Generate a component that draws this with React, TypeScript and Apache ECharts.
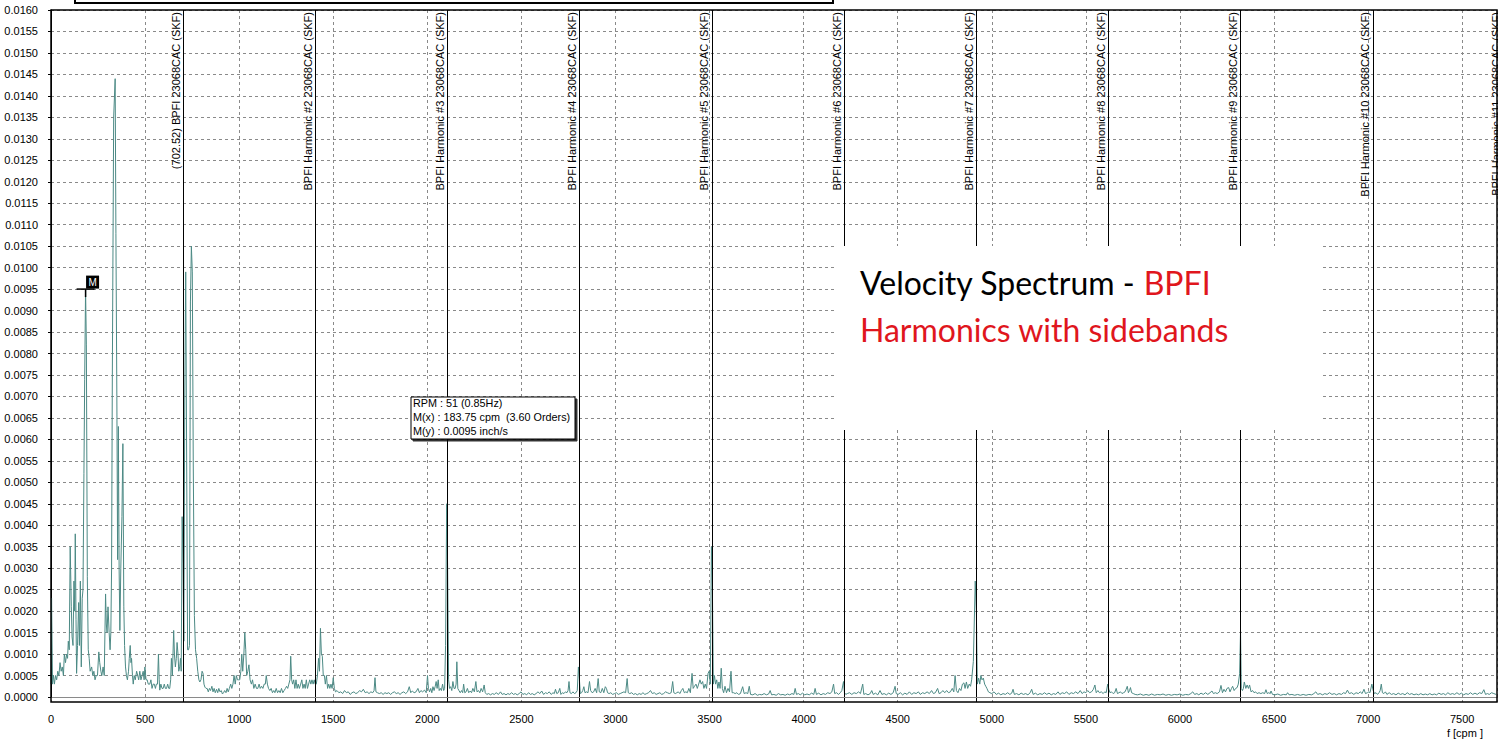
import React, { useEffect, useRef } from "react";
import * as echarts from "echarts";

// ---------- axis settings ----------
const X_MAX = 7685;
const X_STEP = 500;
const Y_MAX = 0.016;
const Y_STEP = 0.0005;

// ---------- annotations ----------
const harmonicFreqs = [702.52, 1405.04, 2107.56, 2810.08, 3512.6, 4215.12, 4917.64, 5620.16, 6322.68, 7025.2];
const harmonicLabels = [
  "(702.52) BPFI 23068CAC (SKF)",
  "BPFI Harmonic #2 23068CAC (SKF)",
  "BPFI Harmonic #3 23068CAC (SKF)",
  "BPFI Harmonic #4 23068CAC (SKF)",
  "BPFI Harmonic #5 23068CAC (SKF)",
  "BPFI Harmonic #6 23068CAC (SKF)",
  "BPFI Harmonic #7 23068CAC (SKF)",
  "BPFI Harmonic #8 23068CAC (SKF)",
  "BPFI Harmonic #9 23068CAC (SKF)",
  "BPFI Harmonic #10 23068CAC (SKF)",
];
const overflowLabel = "BPFI Harmonic #11 23068CAC (SKF)";
const markerPoint = [183.75, 0.0095];
const readoutLines = ["RPM : 51 (0.85Hz)", "M(x) : 183.75 cpm  (3.60 Orders)", "M(y) : 0.0095 inch/s"];
const titleBlack = "Velocity Spectrum - ";
const titleRed1 = "BPFI";
const titleRed2 = "Harmonics with sidebands";
const xUnit = "f [cpm ]";

// ---------- spectrum (cpm, inch/s) ----------
const bandA = [
  [0, 0.0003], [3, 0.0023], [8, 0.0003], [13, 0.0005], [18, 0.0003], [24, 0.0005], [30, 0.0004], [36, 0.0006],
  [42, 0.0005], [48, 0.0008], [54, 0.0006], [60, 0.0007], [66, 0.0005], [71, 0.001], [77, 0.0008], [83, 0.001],
  [88, 0.0009], [92, 0.0013], [97, 0.0011], [102, 0.0035], [108, 0.0021], [112, 0.0014], [117, 0.0012], [122, 0.0027],
  [126, 0.002], [129, 0.0038], [133, 0.0018], [136, 0.00055], [141, 0.0012], [147, 0.0022], [151, 0.0012], [156, 0.0027],
  [161, 0.0007], [166, 0.0023], [170, 0.0025], [175, 0.0052], [179, 0.0074], [183.75, 0.0095], [188, 0.0082], [193, 0.0028],
  [198, 0.0011], [203, 0.0009], [208, 0.0006], [216, 0.0007], [222, 0.0005], [228, 0.0006], [234, 0.0004], [240, 0.0005],
  [247, 0.0005], [254, 0.00105], [259, 0.0008], [265, 0.0006], [270, 0.0005], [277, 0.0007], [283, 0.0005], [290, 0.0024],
  [294, 0.0017], [298, 0.0015], [303, 0.0021], [309, 0.0015], [314, 0.0011], [318, 0.0015], [322, 0.003], [326, 0.0075],
  [333, 0.0135], [341, 0.0144], [345, 0.0108], [350, 0.007], [354, 0.0032], [358, 0.0063], [362, 0.003], [366, 0.00155],
  [371, 0.003], [377, 0.0042], [382, 0.0059], [387, 0.0021], [391, 0.0012], [396, 0.0007], [401, 0.0005], [406, 0.0004],
  [412, 0.0006], [416, 0.0009], [421, 0.0012], [425, 0.0008], [428, 0.0009], [433, 0.0005], [437, 0.0003], [442, 0.0005],
  [448, 0.0004], [455, 0.0006], [461, 0.0005], [466, 0.0004], [472, 0.0006], [478, 0.0004], [484, 0.0005], [490, 0.0006],
  [495, 0.0004], [499, 0.0007], [505, 0.0004], [511, 0.0004], [517, 0.0003], [525, 0.0003], [531, 0.0004], [537, 0.0002],
  [543, 0.0003], [549, 0.0003], [555, 0.0002], [560, 0.0003], [566, 0.0003], [571, 0.001], [575, 0.0004], [578, 0.00016],
  [584, 0.0003], [590, 0.0002], [596, 0.0002], [602, 0.0003], [608, 0.0002], [614, 0.0002], [620, 0.0003], [626, 0.0002],
  [631, 0.0002], [636, 0.0004], [640, 0.0009], [645, 0.0005], [652, 0.00155], [656, 0.001], [661, 0.0007], [666, 0.0009],
  [670, 0.00127], [675, 0.001], [679, 0.0006], [684, 0.0007], [688, 0.0009], [692, 0.0006], [697, 0.0042], [702, 0.0031],
  [706, 0.0013], [711, 0.007], [716, 0.0099], [721, 0.0055], [726, 0.0011], [731, 0.0011], [736, 0.0012], [741, 0.0092],
  [746, 0.0105], [751, 0.0099], [756, 0.0055], [762, 0.0019], [768, 0.0011], [774, 0.0009], [780, 0.0006], [786, 0.0004],
  [791, 0.00035], [797, 0.0004], [803, 0.0006], [808, 0.00055], [813, 0.0003], [818, 0.00023], [824, 0.0002],
];
const bandB = [
  [830, 0.0002], [836, 0.00012], [842, 0.0002], [848, 0.00015], [855, 0.00025], [861, 0.00012], [867, 0.0002], [873, 0.0001],
  [880, 0.00018], [886, 0.0001], [892, 0.0002], [898, 0.00012], [905, 0.00015], [911, 0.00007], [917, 0.0001], [923, 0.00015],
  [930, 0.0001], [936, 0.0002], [942, 0.00012], [948, 0.0002], [955, 0.0003], [961, 0.0002], [967, 0.0003], [973, 0.0005],
  [979, 0.0003], [985, 0.0005], [991, 0.0004], [997, 0.0004], [1003, 0.0004], [1009, 0.0006], [1014, 0.001], [1019, 0.0006],
  [1025, 0.001], [1030, 0.0015], [1035, 0.0011], [1040, 0.0005], [1046, 0.0006], [1052, 0.00075], [1058, 0.0004], [1065, 0.0003],
  [1071, 0.0004], [1078, 0.0002], [1085, 0.0003], [1092, 0.0002], [1099, 0.0002], [1106, 0.0003], [1112, 0.0002], [1119, 0.00025],
  [1126, 0.0002], [1133, 0.0003], [1139, 0.0003], [1144, 0.0005], [1150, 0.0003], [1156, 0.0002], [1163, 0.00015], [1170, 0.0002],
  [1177, 0.0001], [1184, 0.00015], [1190, 0.0001], [1197, 0.0002], [1204, 0.0001], [1211, 0.00015], [1218, 0.0001], [1225, 0.0002],
  [1232, 0.0001], [1239, 0.00015], [1246, 0.0002], [1252, 0.00025], [1258, 0.0002], [1264, 0.0003], [1270, 0.0004], [1274, 0.00095],
  [1279, 0.0004], [1284, 0.0003], [1290, 0.0004], [1296, 0.0002], [1302, 0.0004], [1308, 0.0002], [1314, 0.0003], [1320, 0.0002],
  [1327, 0.0003], [1333, 0.0004], [1339, 0.0002], [1345, 0.0003], [1351, 0.0002], [1357, 0.0004], [1363, 0.0002], [1369, 0.0003],
  [1375, 0.0004], [1381, 0.0003], [1387, 0.0004], [1393, 0.0003], [1399, 0.0004], [1404, 0.0003], [1410, 0.0003], [1416, 0.0005],
  [1422, 0.0009], [1427, 0.0006], [1432, 0.0016], [1437, 0.001], [1442, 0.00095], [1447, 0.0005], [1453, 0.0005], [1458, 0.0003],
  [1464, 0.0005], [1470, 0.0002], [1476, 0.0003], [1482, 0.0002], [1488, 0.0003], [1494, 0.0002], [1500, 0.00045], [1506, 0.0002],
  [1512, 0.00012],
];
const bandC = [
  [1520, 0.00015], [1530, 0.0001], [1540, 0.00012], [1550, 0.00008], [1560, 0.00015], [1570, 0.0001], [1580, 0.00012], [1590, 0.00006],
  [1600, 0.0001], [1610, 0.00012], [1620, 0.00008], [1630, 0.0001], [1640, 0.00015], [1650, 0.00012], [1660, 0.00018], [1670, 0.0001],
  [1680, 0.00012], [1690, 0.00008], [1700, 0.00012], [1710, 0.0001], [1717, 0.00015], [1722, 0.00045], [1727, 0.00012], [1735, 0.0001],
  [1745, 0.00008], [1755, 0.0001], [1765, 0.00006], [1775, 0.0001], [1785, 0.00008], [1795, 0.0001], [1805, 0.00006], [1815, 0.0001],
  [1825, 0.00012], [1835, 0.00008], [1845, 0.0001], [1855, 0.00006], [1865, 0.0001], [1875, 0.00012], [1885, 0.00008], [1895, 0.00012],
  [1904, 0.00024], [1912, 0.0001], [1920, 0.00014], [1930, 0.0001], [1940, 0.00012], [1950, 0.0002], [1958, 0.0001], [1966, 0.00015],
  [1975, 0.00012], [1985, 0.00016], [1994, 0.0001], [2001, 0.0005], [2006, 0.0002], [2012, 0.00012], [2018, 0.0002], [2024, 0.0001],
  [2030, 0.00024], [2036, 0.00015], [2042, 0.00025], [2047, 0.00036], [2052, 0.0002], [2058, 0.0004], [2063, 0.00015], [2069, 0.0002],
  [2075, 0.00015], [2081, 0.0003], [2087, 0.00015], [2092, 0.0002], [2097, 0.0012], [2103, 0.0045], [2108, 0.003], [2113, 0.0004],
  [2118, 0.0002], [2124, 0.00024], [2130, 0.00015], [2136, 0.00036], [2142, 0.0002], [2148, 0.0002], [2153, 0.0003], [2157, 0.00082],
  [2162, 0.0002], [2168, 0.00015], [2175, 0.0001], [2182, 0.00015], [2188, 0.0001], [2193, 0.0003], [2199, 0.0001], [2206, 0.00012],
  [2213, 0.0002], [2220, 0.0001], [2228, 0.00014], [2235, 0.0001], [2242, 0.0002], [2250, 0.00012], [2258, 0.00036], [2264, 0.00012],
  [2272, 0.00015], [2279, 0.0001], [2286, 0.0002], [2294, 0.00012], [2302, 0.00028], [2308, 0.0001],
];
const bandD = [
  [2316, 0.00006], [2326, 0.00008], [2336, 0.00005], [2346, 0.00008], [2356, 0.00006], [2366, 0.0001], [2378, 0.00006], [2389, 0.00012],
  [2398, 0.00006], [2408, 0.00008], [2418, 0.00005], [2428, 0.00008], [2438, 0.00006], [2448, 0.0001], [2458, 0.00006], [2468, 0.00008],
  [2478, 0.00005], [2488, 0.00008], [2498, 0.00012], [2508, 0.00006], [2518, 0.00008], [2528, 0.00005], [2538, 0.0001], [2548, 0.00006],
  [2558, 0.00008], [2568, 0.00005], [2578, 0.00008], [2588, 0.00012], [2598, 0.00008], [2608, 0.00014], [2618, 0.00006], [2628, 0.0001],
  [2638, 0.00008], [2648, 0.00012], [2658, 0.00006], [2668, 0.0001], [2675, 0.00008], [2681, 0.00018], [2688, 0.00008], [2696, 0.0001],
  [2704, 0.0002], [2710, 0.00006], [2718, 0.0001], [2726, 0.00008], [2734, 0.00012], [2742, 0.0001], [2748, 0.00015], [2753, 0.00036],
  [2758, 0.0001], [2766, 0.00008], [2774, 0.00012], [2782, 0.00008], [2790, 0.0001], [2797, 0.00015], [2803, 0.0007], [2808, 0.00043],
  [2813, 0.00008], [2820, 0.0001], [2826, 0.00015], [2832, 0.00024], [2838, 0.0001], [2846, 0.00012], [2854, 0.0001], [2862, 0.00036],
  [2868, 0.00015], [2876, 0.0001], [2884, 0.00012], [2892, 0.0002], [2900, 0.0001], [2908, 0.00043], [2914, 0.00012], [2922, 0.0001],
  [2930, 0.0002], [2938, 0.0001], [2946, 0.00024], [2952, 0.0002], [2958, 0.0001], [2966, 0.00008], [2975, 0.0001], [2985, 0.00006],
  [2995, 0.00008], [3005, 0.0001], [3015, 0.00006], [3025, 0.00008], [3035, 0.0001], [3045, 0.00012], [3054, 0.0001], [3062, 0.00043],
  [3068, 0.0001], [3076, 0.00008], [3086, 0.0001], [3096, 0.00006], [3106, 0.00008], [3116, 0.00005], [3126, 0.00008], [3136, 0.00006],
  [3146, 0.0001], [3156, 0.00006], [3166, 0.00008], [3176, 0.0001], [3186, 0.00015], [3196, 0.00008], [3206, 0.0001], [3216, 0.00006],
  [3226, 0.00008], [3236, 0.0001], [3246, 0.00006], [3256, 0.00008], [3266, 0.00012], [3276, 0.0001], [3286, 0.00008], [3296, 0.0001],
  [3304, 0.00036], [3310, 0.0001], [3318, 0.00008], [3326, 0.0001], [3334, 0.00012], [3342, 0.00008], [3350, 0.00015], [3358, 0.0002],
  [3366, 0.0001], [3374, 0.00012], [3382, 0.0001], [3390, 0.0002], [3398, 0.0001], [3407, 0.00055], [3413, 0.0002], [3420, 0.00025],
  [3428, 0.0003], [3435, 0.0002], [3442, 0.0003], [3449, 0.0004], [3456, 0.0003], [3463, 0.00036], [3470, 0.0002], [3477, 0.0003],
  [3484, 0.0002], [3492, 0.00055], [3498, 0.0006], [3504, 0.0003], [3510, 0.0035], [3515, 0.0026], [3520, 0.0003], [3526, 0.0005],
  [3532, 0.0003], [3538, 0.0004], [3544, 0.0002], [3550, 0.00035], [3556, 0.0002], [3562, 0.00067], [3568, 0.0002], [3575, 0.0001],
  [3582, 0.00025], [3590, 0.0001], [3598, 0.0002], [3606, 0.00012], [3614, 0.0006], [3620, 0.0001], [3628, 0.0001], [3636, 0.00008],
  [3645, 0.0001], [3654, 0.00006], [3664, 0.00008], [3676, 0.00024], [3684, 0.00008], [3694, 0.0001], [3703, 0.00008], [3711, 0.00025],
  [3718, 0.00006],
];
const bandE = [
  [3730, 0.00005], [3742, 0.00008], [3754, 0.00004], [3766, 0.00006], [3778, 0.00005], [3790, 0.00008], [3802, 0.00005], [3814, 0.00007],
  [3822, 0.00015], [3830, 0.00005], [3842, 0.00006], [3854, 0.00004], [3866, 0.00008], [3878, 0.00005], [3890, 0.00006], [3902, 0.00004],
  [3914, 0.00007], [3926, 0.00005], [3938, 0.00008], [3948, 0.00006], [3955, 0.0002], [3962, 0.00006], [3972, 0.00008], [3982, 0.00005],
  [3994, 0.00009], [4006, 0.00005], [4018, 0.00007], [4030, 0.00005], [4042, 0.00009], [4054, 0.00006], [4061, 0.0002], [4068, 0.00006],
  [4080, 0.00009], [4092, 0.00005], [4104, 0.00008], [4116, 0.00006], [4128, 0.0001], [4140, 0.00008], [4150, 0.00012], [4159, 0.0003],
  [4165, 0.00008], [4175, 0.0001], [4185, 0.00006], [4195, 0.0001], [4203, 0.00015], [4212, 0.00036], [4217, 0.0001], [4224, 0.00006],
  [4232, 0.00008], [4244, 0.0001], [4256, 0.00006], [4268, 0.0001], [4280, 0.00008], [4292, 0.00012], [4302, 0.00008], [4314, 0.0003],
  [4320, 0.00006], [4330, 0.00008], [4342, 0.00005], [4354, 0.00008], [4362, 0.00015], [4370, 0.00006], [4382, 0.00009], [4394, 0.00005],
  [4406, 0.00015], [4416, 0.00006], [4428, 0.00008], [4440, 0.00005], [4452, 0.00009], [4464, 0.00006], [4476, 0.0001], [4486, 0.00025],
  [4492, 0.00008], [4502, 0.00006], [4514, 0.0001], [4526, 0.00005], [4538, 0.00009], [4550, 0.00006], [4562, 0.00012], [4574, 0.00006],
  [4586, 0.0001], [4598, 0.00008], [4610, 0.00012], [4620, 0.00006], [4632, 0.0001], [4644, 0.00008], [4656, 0.00012], [4668, 0.00008],
  [4680, 0.00015], [4690, 0.00008], [4700, 0.0001], [4712, 0.0002], [4720, 0.00008], [4730, 0.0001], [4740, 0.00015], [4750, 0.0001],
  [4760, 0.00015], [4770, 0.0001], [4780, 0.00012], [4790, 0.0002], [4798, 0.00012], [4805, 0.0005], [4812, 0.00015], [4820, 0.0001],
  [4828, 0.0002], [4836, 0.00015], [4844, 0.0003], [4852, 0.00033], [4858, 0.0002], [4865, 0.00035], [4872, 0.0002], [4880, 0.0003],
  [4887, 0.00025], [4893, 0.0004], [4902, 0.00083], [4912, 0.0027], [4918, 0.002], [4923, 0.0003], [4930, 0.00044], [4936, 0.0003],
  [4942, 0.0005], [4948, 0.0004], [4955, 0.00044], [4962, 0.0003], [4968, 0.00025], [4974, 0.0002], [4982, 0.00012], [4990, 0.0001],
];
const bandF = [
  [5000, 0.00008], [5012, 0.00012], [5024, 0.00006], [5036, 0.00009], [5048, 0.00005], [5060, 0.00008], [5072, 0.00006], [5084, 0.0001],
  [5096, 0.00006], [5106, 0.00009], [5113, 0.00018], [5120, 0.00006], [5132, 0.00008], [5144, 0.00005], [5156, 0.00009], [5168, 0.00006],
  [5180, 0.00008], [5192, 0.00005], [5204, 0.0001], [5212, 0.00018], [5220, 0.00006], [5232, 0.00009], [5244, 0.00005], [5256, 0.00008],
  [5268, 0.00006], [5280, 0.0001], [5292, 0.00006], [5304, 0.00009], [5316, 0.00005], [5328, 0.00008], [5340, 0.00006], [5352, 0.00012],
  [5362, 0.00006], [5374, 0.0001], [5386, 0.00008], [5398, 0.00012], [5410, 0.00006], [5422, 0.0001], [5434, 0.00008], [5446, 0.00012],
  [5458, 0.00008], [5470, 0.00015], [5480, 0.00008], [5490, 0.00012], [5500, 0.0001], [5510, 0.00015], [5520, 0.0001], [5530, 0.00012],
  [5540, 0.00018], [5548, 0.00028], [5555, 0.0001], [5564, 0.00015], [5572, 0.0001], [5582, 0.00012], [5592, 0.00008], [5600, 0.00012],
  [5608, 0.0001], [5616, 0.0003], [5622, 0.00018], [5628, 0.0001], [5636, 0.00012], [5645, 0.00008], [5653, 0.0001], [5661, 0.0002],
  [5668, 0.00008], [5676, 0.0001], [5684, 0.00012], [5692, 0.00008], [5700, 0.0001], [5708, 0.00012], [5714, 0.00018], [5720, 0.00025],
  [5726, 0.0001], [5732, 0.00015], [5737, 0.00022], [5743, 0.0001], [5752, 0.00008], [5762, 0.00006], [5775, 0.00005], [5790, 0.00007],
  [5805, 0.00004], [5820, 0.00006], [5835, 0.00004], [5850, 0.00007], [5865, 0.00004], [5880, 0.00006], [5895, 0.00005], [5910, 0.00007],
  [5925, 0.00004], [5940, 0.00006], [5955, 0.00004], [5970, 0.00006], [5985, 0.00005],
];
const bandG = [
  [6000, 0.00007], [6015, 0.00004], [6030, 0.00006], [6045, 0.00005], [6058, 0.00008], [6068, 0.00012], [6078, 0.00006], [6090, 0.00008],
  [6100, 0.00005], [6112, 0.00009], [6124, 0.00006], [6136, 0.0001], [6148, 0.00006], [6160, 0.0001], [6170, 0.00014], [6178, 0.00008],
  [6188, 0.0001], [6198, 0.00008], [6210, 0.00012], [6218, 0.00027], [6226, 0.0001], [6234, 0.00018], [6242, 0.00012], [6250, 0.0002],
  [6259, 0.00022], [6266, 0.00012], [6274, 0.0002], [6280, 0.00025], [6288, 0.00015], [6296, 0.0002], [6304, 0.00022], [6310, 0.0003],
  [6317, 0.00054], [6322, 0.00154], [6326, 0.0002], [6332, 0.00015], [6337, 0.0002], [6342, 0.00035], [6350, 0.0002], [6357, 0.00028],
  [6364, 0.0002], [6370, 0.00028], [6378, 0.00012], [6386, 0.00015], [6394, 0.0001], [6402, 0.00012], [6410, 0.00008], [6420, 0.0001],
  [6430, 0.00008], [6440, 0.0001], [6450, 0.00008], [6457, 0.00017], [6464, 0.00008], [6472, 0.0001], [6480, 0.00008], [6484, 0.00014],
  [6492, 0.00006], [6505, 0.00005], [6520, 0.00007], [6535, 0.00004], [6550, 0.00006], [6565, 0.00005], [6572, 0.0001], [6580, 0.00005],
  [6595, 0.00006], [6610, 0.00004], [6625, 0.00006], [6640, 0.00004], [6655, 0.00006], [6670, 0.00004], [6685, 0.00006], [6700, 0.00005],
  [6712, 0.00008], [6722, 0.00012], [6732, 0.00006], [6745, 0.00008], [6758, 0.00005], [6770, 0.00008], [6782, 0.00006], [6795, 0.0001],
  [6808, 0.00006], [6820, 0.00008], [6832, 0.00005], [6845, 0.00008], [6858, 0.00006], [6870, 0.0001], [6880, 0.00008], [6890, 0.00016],
  [6900, 0.00008], [6912, 0.0001], [6924, 0.00006], [6936, 0.0001], [6948, 0.00008], [6958, 0.00012], [6968, 0.00008], [6978, 0.00018],
  [6986, 0.00008], [6996, 0.0001], [7004, 0.00012], [7010, 0.0001], [7020, 0.0003], [7027, 0.00015], [7034, 0.00008], [7042, 0.0001],
  [7050, 0.00006], [7058, 0.0001], [7064, 0.00015], [7070, 0.0003], [7076, 0.0001], [7084, 0.00008], [7092, 0.00012], [7100, 0.00006],
  [7112, 0.0001], [7124, 0.00006], [7136, 0.00008], [7148, 0.00005], [7160, 0.00009], [7172, 0.00006], [7184, 0.00008], [7196, 0.00005],
  [7208, 0.0001], [7220, 0.00006], [7232, 0.00008], [7244, 0.00005], [7256, 0.00007], [7268, 0.00005], [7280, 0.00008], [7292, 0.00005],
  [7304, 0.00007], [7316, 0.00005], [7328, 0.00008], [7340, 0.00005], [7352, 0.00007], [7364, 0.00005], [7376, 0.00009], [7388, 0.00006],
  [7400, 0.00008], [7412, 0.00005], [7424, 0.0001], [7436, 0.00006], [7448, 0.00008], [7460, 0.00006], [7472, 0.0001], [7484, 0.00006],
  [7496, 0.00009], [7508, 0.00005], [7520, 0.00008], [7532, 0.00006], [7544, 0.0001], [7556, 0.00006], [7568, 0.00009], [7580, 0.00006],
  [7592, 0.0001], [7604, 0.00008], [7615, 0.00017], [7624, 0.00006], [7634, 0.00008], [7644, 0.00006], [7656, 0.0001], [7668, 0.00008],
  [7680, 0.00006],
];
const spectrum = [...bandA, ...bandB, ...bandC, ...bandD, ...bandE, ...bandF, ...bandG];

// ---------- layout & style ----------
const W = 1508;
const H = 740;
const GRID_LEFT = 51;
const GRID_RIGHT = 11;
const GRID_TOP = 10;
const AXIS_BOTTOM = 43; // position of y = 0
const FRAME_BOTTOM = 38; // plot frame lower edge
const Y_PAD = (Y_MAX * (AXIS_BOTTOM - FRAME_BOTTOM)) / (H - AXIS_BOTTOM - GRID_TOP);
const SANS = "'Liberation Sans', Arial, sans-serif";
const TITLE_FONT = "Lato, 'Open Sans', sans-serif";
const TEAL = "#4c8a85";
const GRID_GRAY = "#8a8a8a";
const RED = "#e0161d";

function buildOption() {
  const dashed = { color: GRID_GRAY, width: 1, type: [3, 3] as number[] };
  return {
    animation: false,
    backgroundColor: "#ffffff",
    grid: [
      { left: GRID_LEFT, right: GRID_RIGHT, top: GRID_TOP, bottom: FRAME_BOTTOM },
      { left: GRID_LEFT, right: GRID_RIGHT, top: GRID_TOP, bottom: AXIS_BOTTOM },
    ],
    xAxis: [
      {
        gridIndex: 0, type: "value", min: 0, max: X_MAX, interval: X_STEP,
        axisLine: { show: false }, axisTick: { show: false }, axisLabel: { show: false },
        splitLine: { show: true, lineStyle: dashed },
      },
      {
        gridIndex: 1, type: "value", min: 0, max: X_MAX, interval: X_STEP, offset: 11,
        axisLine: { show: true, lineStyle: { color: "#000", width: 1 } },
        axisTick: { show: false },
        axisLabel: {
          color: "#000", fontSize: 11, fontFamily: SANS, margin: 5, showMaxLabel: false,
          formatter: (v: number) => String(v),
        },
        splitLine: { show: false },
      },
    ],
    yAxis: [
      { gridIndex: 0, type: "value", min: -Y_PAD, max: Y_MAX, show: false, splitLine: { show: false } },
      {
        gridIndex: 1, type: "value", min: 0, max: Y_MAX, interval: Y_STEP, offset: 8,
        axisLine: { show: true, lineStyle: { color: "#000", width: 1 } },
        axisTick: { show: true, length: 3, lineStyle: { color: "#000" } },
        axisLabel: { color: "#000", fontSize: 11, fontFamily: SANS, margin: 5, formatter: (v: number) => v.toFixed(4) },
        splitLine: { show: true, lineStyle: dashed },
      },
    ],
    series: [
      {
        type: "line",
        xAxisIndex: 0,
        yAxisIndex: 0,
        data: spectrum,
        showSymbol: false,
        symbol: "none",
        silent: true,
        lineStyle: { color: TEAL, width: 1 },
        z: 3,
        markLine: {
          silent: true,
          symbol: "none",
          animation: false,
          lineStyle: { color: "#000", width: 1, type: "solid" },
          label: {
            show: true,
            position: "insideEndTop",
            color: "#000",
            fontSize: 11,
            fontFamily: SANS,
            distance: [2, 2],
          },
          data: [
            ...harmonicFreqs.map((f, i) => ({ xAxis: f, label: { formatter: harmonicLabels[i] } })),
            { yAxis: 0, lineStyle: { color: "#8a8a8a", width: 1, type: "solid" }, label: { show: false } },
          ],
        },
        markPoint: {
          silent: true,
          animation: false,
          data: [
            { coord: markerPoint, symbol: "rect", symbolSize: [18, 1.5], symbolOffset: [0, 0], itemStyle: { color: "#000" }, label: { show: false } },
            { coord: markerPoint, symbol: "rect", symbolSize: [1.5, 8], symbolOffset: [0, 4], itemStyle: { color: "#000" }, label: { show: false } },
            {
              coord: markerPoint, symbol: "rect", symbolSize: [13, 13], symbolOffset: [7, -7],
              itemStyle: { color: "#000" },
              label: { show: true, position: "inside", formatter: "M", color: "#fff", fontSize: 10, fontFamily: SANS },
            },
          ],
        },
      },
    ],
    graphic: [
      // plot frame
      {
        type: "rect", z: 40, silent: true,
        shape: { x: GRID_LEFT, y: GRID_TOP, width: W - GRID_LEFT - GRID_RIGHT, height: H - GRID_TOP - FRAME_BOTTOM },
        style: { fill: "none", stroke: "#000", lineWidth: 1.5 },
      },
      // overflowing harmonic #11 label, clipped at the frame
      {
        type: "text", z: 30, silent: true, x: 1501, y: 12, rotation: Math.PI / 2,
        style: { text: overflowLabel, fill: "#000", fontSize: 11, fontFamily: SANS, align: "right", verticalAlign: "bottom" },
      },
      { type: "rect", z: 35, silent: true, shape: { x: 1498, y: 0, width: 10, height: 720 }, style: { fill: "#fff" } },
      // cut box at the very top
      {
        type: "rect", z: 40, silent: true,
        shape: { x: 75, y: -20, width: 758, height: 23 },
        style: { fill: "#fff", stroke: "#000", lineWidth: 2 },
      },
      // x unit
      {
        type: "text", z: 40, silent: true, x: 1483, y: 733,
        style: { text: xUnit, fill: "#000", fontSize: 11, fontFamily: SANS, align: "right", verticalAlign: "middle" },
      },
      // readout box
      {
        type: "group", x: 411, y: 397, z: 60,
        children: [
          {
            type: "rect", z: 60, silent: true,
            shape: { x: 0, y: 0, width: 164, height: 42 },
            style: { fill: "#fff", stroke: "#000", lineWidth: 1, shadowColor: "rgba(0,0,0,0.8)", shadowOffsetX: 2, shadowOffsetY: 2, shadowBlur: 0 },
          },
          ...readoutLines.map((t, i) => ({
            type: "text", z: 61, silent: true, x: 2, y: 6 + i * 14,
            style: { text: t, fill: "#000", fontSize: 10.8, fontFamily: SANS, align: "left", verticalAlign: "middle" },
          })),
        ],
      },
      // title panel
      {
        type: "rect", z: 100, silent: true,
        shape: { x: 836, y: 246, width: 486, height: 184 },
        style: { fill: "#fff" },
      },
      {
        type: "text", z: 101, silent: true, x: 860, y: 282,
        style: {
          text: `{k|${titleBlack}}{r|${titleRed1}}`,
          verticalAlign: "middle",
          rich: {
            k: { fill: "#000", fontSize: 32, fontFamily: TITLE_FONT },
            r: { fill: RED, fontSize: 32, fontFamily: TITLE_FONT },
          },
        },
      },
      {
        type: "text", z: 101, silent: true, x: 860, y: 329,
        style: { text: titleRed2, fill: RED, fontSize: 32, fontFamily: TITLE_FONT, verticalAlign: "middle" },
      },
    ],
  };
}

export default function App() {
  const ref = useRef<HTMLDivElement>(null);
  useEffect(() => {
    if (!ref.current) return;
    const chart = echarts.init(ref.current, undefined, { renderer: "svg", width: W, height: H });
    chart.setOption(buildOption() as any);
    return () => chart.dispose();
  }, []);
  return (
    <div
      ref={ref}
      style={{ position: "fixed", left: 0, top: 0, width: `${W}px`, height: `${H}px`, background: "#fff" }}
    />
  );
}
